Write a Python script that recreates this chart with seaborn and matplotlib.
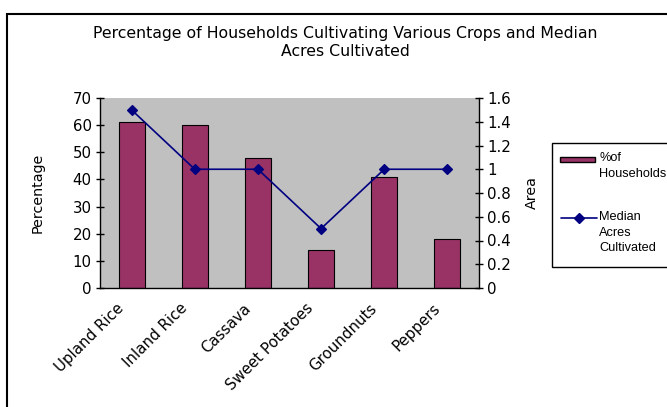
import matplotlib
matplotlib.use("Agg")
import matplotlib.pyplot as plt
from matplotlib.patches import Rectangle
from matplotlib.lines import Line2D
from matplotlib.transforms import ScaledTranslation
import seaborn as sns
import pandas as pd

crops = ["Upland Rice", "Inland Rice", "Cassava", "Sweet Potatoes", "Groundnuts", "Peppers"]
pct_households = [61, 60, 48, 14, 41, 18]
median_acres = [1.5, 1.0, 1.0, 0.5, 1.0, 1.0]

pct_ticks = [0, 10, 20, 30, 40, 50, 60, 70]
area_ticks = [0, 0.2, 0.4, 0.6, 0.8, 1, 1.2, 1.4, 1.6]
area_ticklabels = ["0", "0.2", "0.4", "0.6", "0.8", "1", "1.2", "1.4", "1.6"]

bar_label = "%of\nHouseholds"
line_label = "Median\nAcres\nCultivated"

BAR_COLOR = "#993366"
LINE_COLOR = "#000080"

df = pd.DataFrame({"crop": crops, "pct": pct_households, "acres": median_acres})

sns.set_theme(style="white")
plt.rcParams["font.family"] = ["DejaVu Sans"]
for key in ("text.color", "axes.labelcolor", "xtick.color", "ytick.color"):
    plt.rcParams[key] = "black"

W, H = 667, 407
fig = plt.figure(figsize=(W / 100, H / 100), dpi=100)
fig.patch.set_facecolor("white")

def fx(px):
    return px / W

def fy(py):
    return 1 - py / H

# outer chart frame
fig.add_artist(Rectangle((fx(7), -0.1), 1.2, fy(14) + 0.1, transform=fig.transFigure,
                         fill=False, edgecolor="black", linewidth=1.5))

ax = fig.add_axes([fx(100), fy(288), 379 / W, 190 / H])
ax.set_facecolor("#C0C0C0")

sns.barplot(data=df, x="crop", y="pct", ax=ax, color=BAR_COLOR, width=0.41,
            edgecolor="black", linewidth=0.8, saturation=1)

ax2 = ax.twinx()
sns.pointplot(data=df, x="crop", y="acres", ax=ax2, color=LINE_COLOR, markers="D",
              markersize=5.5, linewidth=1.2)

ax.set_xlim(-0.5, len(crops) - 0.5)
ax.set_ylim(0, 70)
ax2.set_ylim(0, 1.6)

TICK_FS = 10.8
ax.set_yticks(pct_ticks)
ax.set_yticklabels([str(t) for t in pct_ticks], fontsize=TICK_FS)
ax2.set_yticks(area_ticks)
ax2.set_yticklabels(area_ticklabels, fontsize=TICK_FS)

ax.set_xticks(range(len(crops)))
ax.set_xticklabels(crops, rotation=45, ha="right", va="center",
                   rotation_mode="anchor", fontsize=TICK_FS)
ax.set_xticks([i - 0.5 for i in range(len(crops) + 1)], minor=True)
ax.tick_params(axis="x", which="major", length=0, pad=13)
ax.tick_params(axis="x", which="minor", length=5, width=1, direction="out", color="black")
ax.tick_params(axis="y", length=6, width=1, direction="inout", color="black", left=True, pad=3)
ax2.tick_params(axis="y", length=6, width=1, direction="inout", color="black", right=True, pad=3)
shift = ScaledTranslation(-10 / 100, 0, fig.dpi_scale_trans)
for lab in ax.get_xticklabels():
    lab.set_transform(lab.get_transform() + shift)

ax.set_xlabel("")
ax.set_ylabel("Percentage", fontsize=10.3)
ax.yaxis.label.set_va("center")
ax.yaxis.set_label_coords((38 - 100) / 379, 0.5)
ax2.set_ylabel("Area", fontsize=10.3)
ax2.yaxis.label.set_va("center")
ax2.yaxis.set_label_coords((532 - 100) / 379, 0.5)

for a in (ax, ax2):
    a.spines["top"].set_visible(False)
    for side in ("left", "right", "bottom"):
        a.spines[side].set_color("black")
        a.spines[side].set_linewidth(1.0)
ax.spines["right"].set_visible(False)
ax2.spines["left"].set_visible(False)
ax2.spines["bottom"].set_visible(False)
ax.set_zorder(ax2.get_zorder() - 1)
ax2.patch.set_visible(False)

fig.text(fx(345), fy(42.5),
         "Percentage of Households Cultivating Various Crops and Median\nAcres Cultivated",
         ha="center", va="center", fontsize=11.3, linespacing=1.25)

# legend box
LEG_FONT = {"family": "Liberation Sans", "size": 9.2}
fig.add_artist(Rectangle((fx(552), fy(267)), 0.5, (267 - 143) / H, transform=fig.transFigure,
                         facecolor="white", edgecolor="black", linewidth=1.0))
fig.add_artist(Rectangle((fx(560), fy(162)), 35 / W, 5 / H, transform=fig.transFigure,
                         facecolor=BAR_COLOR, edgecolor="black", linewidth=1.0))
fig.add_artist(Line2D([fx(561), fx(597)], [fy(218), fy(218)], transform=fig.transFigure,
                      color=LINE_COLOR, linewidth=1.2))
fig.add_artist(Line2D([fx(579)], [fy(218)], transform=fig.transFigure, color=LINE_COLOR,
                      marker="D", markersize=5.5, linewidth=0))
fig.text(fx(599), fy(152), bar_label, ha="left", va="top", fontdict=LEG_FONT, linespacing=1.4)
fig.text(fx(599), fy(211), line_label, ha="left", va="top", fontdict=LEG_FONT, linespacing=1.4)

fig.savefig("out.png", dpi=100)
